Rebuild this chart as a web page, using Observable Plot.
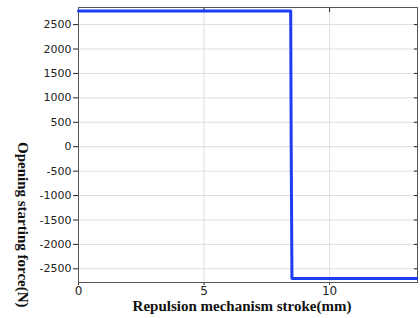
<!DOCTYPE html>
<html>
<head>
<meta charset="utf-8">
<script src="https://cdn.jsdelivr.net/npm/d3@7"></script>
<script src="https://cdn.jsdelivr.net/npm/@observablehq/plot@0.6"></script>
<style>
  html, body { margin: 0; padding: 0; background: #fff; }
  #chart svg { display: block; }
</style>
</head>
<body>
<div id="chart"></div>
<script>
// Data
const stroke = [0, 8.45, 8.47, 8.5, 13.47];        // mm
const force  = [2780, 2780, 0, -2700, -2700];       // N
const xTicks = [0, 5, 10];
const yTicks = [-2500, -2000, -1500, -1000, -500, 0, 500, 1000, 1500, 2000, 2500];
const xTitle = "Repulsion mechanism stroke(mm)";
const yTitle = "Opening starting force(N)";

const data = stroke.map((s, i) => ({x: s, y: force[i]}));

const plot = Plot.plot({
  width: 420,
  height: 318,
  marginLeft: 78,
  marginRight: 3,
  marginTop: 7,
  marginBottom: 36,
  style: {fontFamily: "DejaVu Sans", fontSize: "11px", color: "#222", background: "#fff"},
  x: {domain: [0, 13.5]},
  y: {domain: [-2780, 2850]},
  marks: [
    Plot.gridX(xTicks, {stroke: "#dedede", strokeOpacity: 1}),
    Plot.gridY(yTicks, {stroke: "#dedede", strokeOpacity: 1}),
    Plot.axisX(xTicks, {anchor: "bottom", tickSize: 3, tickPadding: 1, tickFormat: d => String(d), label: null, fontSize: 12}),
    Plot.axisX(xTicks, {anchor: "top", tickSize: -4, tickFormat: () => "", label: null}),
    Plot.axisY(yTicks, {anchor: "left", tickSize: 5, tickPadding: 2, tickFormat: d => String(d), label: null, fontSize: 11}),
    Plot.axisY(yTicks, {anchor: "right", tickSize: -4, tickFormat: () => "", label: null}),
    Plot.frame({stroke: "#555"}),
    Plot.line(data, {x: "x", y: "y", stroke: "#1d3ef0", strokeWidth: 3, curve: "linear"}),
    Plot.text([xTitle], {frameAnchor: "bottom", dy: 28, dx: -6, text: d => d, fontFamily: "Liberation Serif", fontWeight: "bold", fontSize: 15, fill: "#111"}),
    Plot.text([yTitle], {frameAnchor: "left", dx: -56, rotate: 90, text: d => d, fontFamily: "Liberation Serif", fontWeight: "bold", fontSize: 15, fill: "#111", dy: -3})
  ]
});
document.getElementById("chart").append(plot);
</script>
</body>
</html>
